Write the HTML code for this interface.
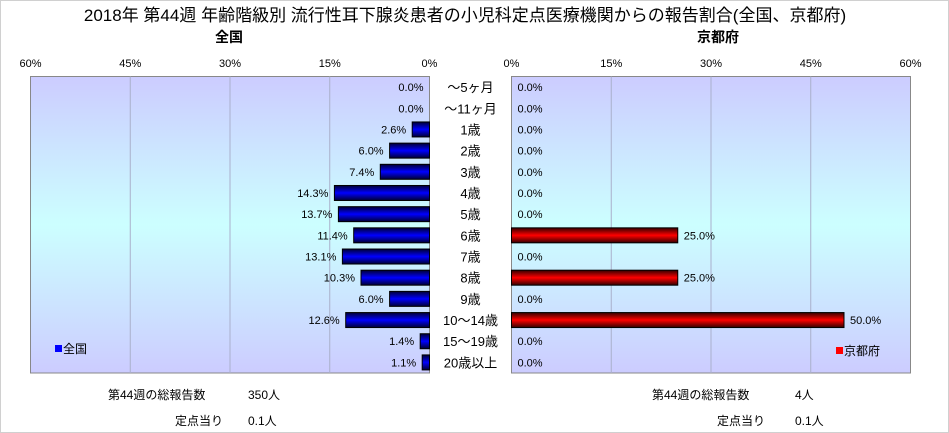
<!DOCTYPE html>
<html><head><meta charset="utf-8">
<style>
body{margin:0;background:#fff;}
#wrap{position:relative;width:949px;height:433px;overflow:hidden;font-family:"Liberation Sans","Noto Sans CJK JP",sans-serif;}
svg text{font-family:"Liberation Sans","Noto Sans CJK JP",sans-serif;}
</style></head>
<body>
<div id="wrap">
<svg id="chart" width="949" height="433" xmlns="http://www.w3.org/2000/svg">
<defs>
<linearGradient id="bg" x1="0" y1="0" x2="0" y2="1">
<stop offset="0" stop-color="#ccccff"/><stop offset="0.5" stop-color="#ccffff"/><stop offset="1" stop-color="#ccccff"/>
</linearGradient>
<linearGradient id="gb" x1="0" y1="0" x2="0" y2="1">
<stop offset="0" stop-color="#000033"/><stop offset="0.5" stop-color="#0000ff"/><stop offset="1" stop-color="#000033"/>
</linearGradient>
<linearGradient id="gr" x1="0" y1="0" x2="0" y2="1">
<stop offset="0" stop-color="#330000"/><stop offset="0.5" stop-color="#ff0000"/><stop offset="1" stop-color="#330000"/>
</linearGradient>
</defs>
<rect x="0.5" y="0.5" width="948" height="432" fill="#fff" stroke="#d0d0d0"/>
<text x="465" y="21" font-size="17" text-anchor="middle">2018年 第44週 年齢階級別 流行性耳下腺炎患者の小児科定点医療機関からの報告割合(全国、京都府)</text>
<text x="229" y="42" font-size="14" font-weight="bold" text-anchor="middle">全国</text>
<text x="718" y="42" font-size="14" font-weight="bold" text-anchor="middle">京都府</text>
<g id="g"></g>
<g><rect x="55" y="345" width="7" height="7" fill="#0000ff"/><text x="63" y="353" font-size="12">全国</text></g>
<g><rect x="836" y="347" width="7" height="7" fill="#ff0000"/><text x="844" y="355" font-size="12">京都府</text></g>
<g font-size="12">
<text x="108" y="399">第44週の総報告数</text>
<text x="248" y="399">350人</text>
<text x="175" y="425">定点当り</text>
<text x="248" y="425">0.1人</text>
<text x="652" y="399">第44週の総報告数</text>
<text x="795" y="399">4人</text>
<text x="717" y="425">定点当り</text>
<text x="795" y="425">0.1人</text>
</g>
</svg>
</div>
<script>
const categories=["～5ヶ月","～11ヶ月","1歳","2歳","3歳","4歳","5歳","6歳","7歳","8歳","9歳","10～14歳","15～19歳","20歳以上"];
const nationalValues=[0.0,0.0,2.6,6.0,7.4,14.3,13.7,11.4,13.1,10.3,6.0,12.6,1.4,1.1];
const kyotoValues=[0,0,0,0,0,0,0,25.0,0,25.0,0,50.0,0,0];
const tickValues=[0,15,30,45,60];
const NS="http://www.w3.org/2000/svg";
const g=document.getElementById('g');
const L0=429.5,R0=511.5,W=399,TOP=76.5,BOT=373,MAX=60;
const rowH=(BOT-TOP)/categories.length;
const sx=v=>v/MAX*W;
const rowY=i=>TOP+rowH*(i+0.5);
function mk(t,a,p){const e=document.createElementNS(NS,t);for(const k in a)e.setAttribute(k,a[k]);(p||g).appendChild(e);return e;}
const bgL=mk('rect',{x:L0-W,y:TOP,width:W,height:BOT-TOP,fill:'url(#bg)',stroke:'#888'});


const bgR=mk('rect',{x:R0,y:TOP,width:W,height:BOT-TOP,fill:'url(#bg)',stroke:'#888'});


tickValues.forEach(t=>{
 const xl=L0-sx(t),xr=R0+sx(t);
 if(t>0&&t<MAX){
  const gl=mk('line',{x1:xl,x2:xl,y1:TOP,y2:BOT,stroke:'#aab0cc'});
  
  
  const gr=mk('line',{x1:xr,x2:xr,y1:TOP,y2:BOT,stroke:'#aab0cc'});
  
  
 }
 const a=mk('text',{x:xl,y:67,'font-size':11,'text-anchor':'middle'});a.textContent=t+'%';
 
 
 const b=mk('text',{x:xr,y:67,'font-size':11,'text-anchor':'middle'});b.textContent=t+'%';
 
 
});
categories.forEach((c,i)=>{
 const y=rowY(i);
 const ct=mk('text',{x:(L0+R0)/2,y:y+5,'font-size':13,'text-anchor':'middle'});ct.textContent=c;
 
 
 const nv=nationalValues[i],kv=kyotoValues[i];
 if(nv>0){const r=mk('rect',{x:L0-sx(nv),y:y-7.5,width:sx(nv),height:15,fill:'url(#gb)',stroke:'#000'});
  
  }
 const nt=mk('text',{x:L0-sx(nv)-6,y:y+4,'font-size':11,'text-anchor':'end'});nt.textContent=nv.toFixed(1)+'%';
 
 
 if(kv>0){const r=mk('rect',{x:R0,y:y-7.5,width:sx(kv),height:15,fill:'url(#gr)',stroke:'#000'});
  
  }
 const kt=mk('text',{x:R0+sx(kv)+6,y:y+4,'font-size':11});kt.textContent=kv.toFixed(1)+'%';
 
 
});
</script>
</body></html>
